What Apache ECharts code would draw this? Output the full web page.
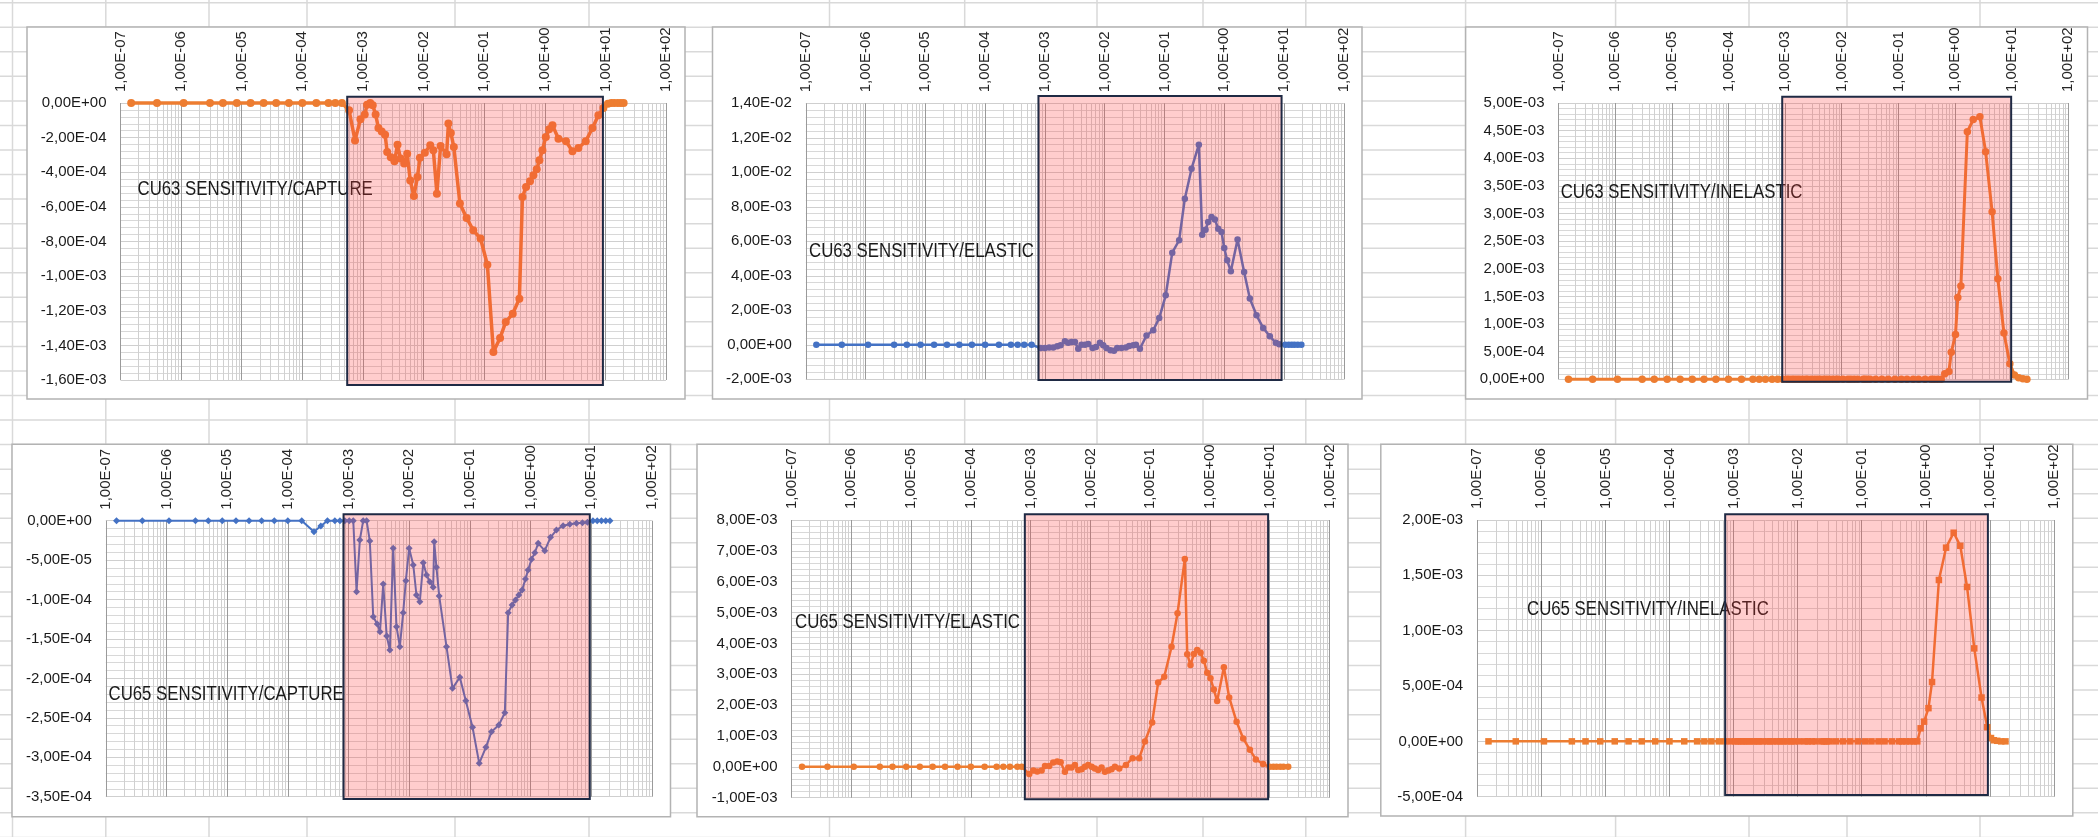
<!DOCTYPE html>
<html>
<head>
<meta charset="utf-8">
<title>CU63 / CU65 sensitivity profiles</title>
<script src="https://cdn.jsdelivr.net/npm/echarts@6/dist/echarts.min.js"></script>
<style>
  html, body { margin: 0; padding: 0; background: #ffffff; }
  #chart { width: 2098px; height: 837px; }
</style>
</head>
<body>
<div id="chart"></div>
<script>
// ---- Energy group grid (MeV) ----
const lowGroupE = [1.5e-7, 4.0e-7, 1.1e-6, 3.0e-6, 4.9e-6, 8.3e-6, 1.4e-5, 2.3e-5, 3.7e-5, 6.0e-5, 1.0e-4, 1.7e-4, 2.7e-4, 3.5e-4, 4.5e-4];
const midGroupE = [5.9e-4, 7.4e-4, 9.1e-4, 1.07e-3, 1.17e-3, 1.32e-3, 1.45e-3, 1.62e-3, 1.80e-3, 2.04e-3, 2.32e-3,
  2.51e-3, 2.88e-3, 3.31e-3, 3.72e-3, 4.17e-3, 4.79e-3, 5.37e-3, 6.03e-3, 6.92e-3, 7.94e-3, 8.71e-3,
  1.05e-2, 1.29e-2, 1.45e-2, 1.66e-2, 1.91e-2, 2.40e-2, 2.57e-2, 2.82e-2, 3.16e-2, 3.98e-2, 5.13e-2,
  6.61e-2, 8.71e-2, 0.113, 0.142, 0.183, 0.227, 0.296, 0.381, 0.428, 0.491, 0.571];

// ---- CU63 capture ----
const cu63CaptureE = [...lowGroupE, ...midGroupE, 0.649, 0.736, 0.815, 0.914, 1.04, 1.18, 1.34, 1.68, 2.24, 2.86, 3.59, 4.74, 6.11, 7.67, 9.27, 11, 12.5, 14, 16, 18, 20];
const cu63Capture = [0, 0, 0, 0, 0, 0, 0, 0, 0, 0, 0, 0, 0, 0, 0,
  -4.2e-5, -2.16e-4, -9.4e-5, -6.7e-5, -1.0e-5, 0, -1.3e-5, -6.7e-5, -1.44e-4, -1.64e-4, -1.83e-4,
  -2.83e-4, -3.14e-4, -3.37e-4, -2.41e-4, -3.21e-4, -3.50e-4, -2.93e-4, -4.47e-4, -5.37e-4, -4.27e-4, -3.16e-4,
  -2.87e-4, -2.44e-4, -2.73e-4, -5.24e-4, -2.48e-4, -2.96e-4, -1.19e-4, -1.73e-4, -2.54e-4, -5.81e-4, -6.64e-4,
  -7.35e-4, -7.83e-4, -9.34e-4, -1.438e-3, -1.357e-3, -1.265e-3, -1.217e-3, -1.130e-3, -5.43e-4, -4.85e-4, -4.52e-4,
  -4.18e-4, -3.83e-4, -3.31e-4, -2.73e-4, -1.96e-4, -1.52e-4, -1.29e-4, -2.06e-4, -2.21e-4, -2.79e-4, -2.60e-4,
  -2.21e-4, -1.44e-4, -7.1e-5, -2.9e-5, -5e-6, 0, 0, 0, 0, 0];

// ---- CU63 elastic ----
const cu63ElasticE = [...lowGroupE, 6.0e-4, 8.5e-4, 1.0e-3, 1.18e-3, 1.38e-3, 1.61e-3, 1.83e-3, 2.16e-3, 2.45e-3, 2.79e-3, 3.18e-3, 3.61e-3, 4.10e-3, 4.68e-3, 5.31e-3, 6.27e-3, 7.13e-3, 8.32e-3, 9.44e-3, 1.07e-2, 1.25e-2, 1.43e-2, 1.62e-2, 1.91e-2, 2.26e-2, 2.57e-2, 3.0e-2, 3.33e-2, 3.88e-2, 5.01e-2, 6.49e-2, 8.17e-2, 0.105, 0.135, 0.176, 0.219, 0.284, 0.376, 0.428, 0.486, 0.538, 0.612, 0.697, 0.792, 0.90, 1.0, 1.12, 1.29, 1.67, 2.15, 2.68, 3.47, 4.48, 5.79, 7.29, 8.30, 10.5, 12, 13.5, 15, 17, 19.5];
const cu63Elastic = [0, 0, 0, 0, 0, 0, 0, 0, 0, 0, 0, 0, 0, 0, 0,
  0, -1.9e-4, -1.9e-4, -1.5e-4, -1.5e-4, -9e-5, -3e-5, 2.0e-4, 1.2e-4, 1.6e-4, 1.6e-4, -2.3e-4, 0, 0, 4e-5, -1.9e-4, -1.3e-4, 1.2e-4, -3e-5, -1.9e-4, -3.2e-4, -3.4e-4, -1.9e-4, -1.9e-4, -1.5e-4, -7e-5, -3e-5, 0, -2.3e-4,
  5.4e-4, 8.4e-4, 1.55e-3, 2.87e-3, 5.34e-3, 6.06e-3, 8.47e-3, 1.021e-2, 1.160e-2, 6.38e-3, 6.67e-3, 7.12e-3, 7.41e-3, 7.27e-3, 6.73e-3, 6.54e-3, 5.61e-3, 4.90e-3, 4.26e-3, 6.11e-3, 4.22e-3, 2.68e-3, 1.71e-3, 9.8e-4, 4.9e-4, 1.2e-4, 3e-5,
  0, 0, 0, 0, 0, 0];

// ---- CU63 inelastic ----
const cu63InelasticE = [...lowGroupE, ...midGroupE, 0.66, 0.78, 0.86, 1.02, 1.12, 1.27, 1.65, 2.1, 2.75, 3.47, 4.52, 5.7, 7.3, 9.3, 11.2, 13.3, 15.8, 18.6];
const cu63Inelastic = [0, 0, 0, 0, 0, 0, 0, 0, 0, 0, 0, 0, 0, 0, 0,
  0, 0, 0, 0, 0, 0, 0, 0, 0, 0, 0,
  0, 0, 0, 0, 0, 0, 0, 0, 0, 0, 0,
  0, 0, 0, 0, 0, 0, 0, 0, 0, 0, 0,
  0, 0, 0, 0, 0, 0, 0, 0, 0, 0, 0,
  1.0e-4, 1.4e-4, 4.9e-4, 8.1e-4, 1.48e-3, 1.69e-3, 4.48e-3, 4.70e-3, 4.75e-3, 4.12e-3, 3.03e-3, 1.82e-3, 8.4e-4, 2.8e-4, 8e-5, 3e-5, 1e-5, 0];

// ---- CU65 capture ----
const cu65CaptureE = [...lowGroupE, 5.97e-4, 7.23e-4, 8.71e-4, 1.03e-3, 1.20e-3, 1.36e-3, 1.54e-3, 1.75e-3, 1.99e-3, 2.25e-3, 2.56e-3, 2.98e-3, 3.31e-3, 3.74e-3, 4.27e-3, 4.81e-3, 5.46e-3, 6.19e-3, 7.03e-3, 7.98e-3, 8.83e-3, 1.0e-2, 1.17e-2, 1.32e-2, 1.50e-2, 1.71e-2, 1.94e-2, 2.19e-2, 2.49e-2, 2.59e-2, 2.82e-2, 3.13e-2, 4.13e-2, 5.19e-2, 6.85e-2, 8.59e-2, 0.111, 0.143, 0.184, 0.228, 0.301, 0.378, 0.429, 0.499, 0.566, 0.643, 0.729, 0.826, 0.914, 1.04, 1.18, 1.34, 1.72, 2.14, 2.68, 3.45, 4.45, 5.73, 7.19, 8.69, 10.7, 12.6, 14.8, 17.4, 20.4];
const cu65Capture = [0, 0, 0, 0, 0, 0, 0, 0, 0, 0, 0, 0, -1.39e-5, -6.7e-6, 0,
  0, 0, 0, 0, 0, -9.0e-5, -2.45e-5, 0, 0, -2.58e-5, -1.217e-4, -1.31e-4, -1.407e-4, -8.03e-5, -1.462e-4, -1.64e-4, -3.5e-5, -1.344e-4, -1.597e-4, -1.166e-4, -7.6e-5, -3.5e-5, -5.62e-5, -9.42e-5, -1.027e-4, -5.32e-5, -6.89e-5, -7.73e-5, -8.45e-5, -2.66e-5, -5.91e-5, -9.55e-5,
  -1.597e-4, -2.126e-4, -1.986e-4, -2.282e-4, -2.62e-4, -3.077e-4, -2.874e-4, -2.675e-4, -2.591e-4, -2.435e-4, -1.166e-4, -1.069e-4, -1.006e-4, -9.42e-5, -8.79e-5, -7.39e-5, -6.25e-5, -4.9e-5, -4.06e-5, -2.87e-5, -3.8e-5, -2.11e-5, -1.18e-5, -6.3e-6, -4.6e-6, -3.3e-6, -2.5e-6, -2.1e-6,
  0, 0, 0, 0, 0];

// ---- CU65 elastic ----
const cu65ElasticE = [...lowGroupE, 6.0e-4, 7.1e-4, 9.5e-4, 1.11e-3, 1.29e-3, 1.53e-3, 1.74e-3, 2.05e-3, 2.39e-3, 2.79e-3, 3.18e-3, 3.75e-3, 4.27e-3, 4.84e-3, 5.51e-3, 6.27e-3, 7.13e-3, 8.09e-3, 9.20e-3, 1.05e-2, 1.19e-2, 1.35e-2, 1.54e-2, 1.75e-2, 1.99e-2, 2.26e-2, 2.57e-2, 3.04e-2, 3.93e-2, 5.08e-2, 6.56e-2, 8.17e-2, 0.108, 0.136, 0.172, 0.228, 0.287, 0.38, 0.417, 0.473, 0.538, 0.612, 0.697, 0.791, 0.90, 1.02, 1.16, 1.32, 1.71, 2.10, 2.79, 3.60, 4.66, 5.86, 7.76, 10, 11.5, 13, 15, 17, 20.4];
const cu65Elastic = [0, 0, 0, 0, 0, 0, 0, 0, 0, 0, 0, 0, 0, 0, 0,
  0, 0, -2.3e-4, -1.2e-4, -1.5e-4, -1.2e-4, 3e-5, 3e-5, 1.4e-4, 1.7e-4, 1.5e-4, -1.6e-4, -2e-5, -2e-5, 6e-5, -1.0e-4, -8e-5, 0, 6e-5, 0, -5e-5, -1.0e-4, -2e-5, -1.6e-4, -1.2e-4, -8e-5, 0, -5e-5, 6e-5,
  2.8e-4, 2.8e-4, 8.2e-4, 1.44e-3, 2.73e-3, 2.92e-3, 3.89e-3, 4.98e-3, 6.74e-3, 3.65e-3, 3.30e-3, 3.66e-3, 3.79e-3, 3.70e-3, 3.44e-3, 3.05e-3, 2.87e-3, 2.51e-3, 2.13e-3, 3.23e-3, 2.25e-3, 1.46e-3, 9.2e-4, 5.5e-4, 2.4e-4, 9e-5,
  0, 0, 0, 0, 0, 0];

// ---- CU65 inelastic ----
const cu65InelasticE = [...lowGroupE, ...midGroupE, 0.649, 0.736, 0.83, 0.94, 1.1, 1.25, 1.6, 2.07, 2.72, 3.45, 4.4, 5.7, 7.4, 9.1, 10.4, 11.5, 13, 15, 17.5];
const cu65Inelastic = [0, 0, 0, 0, 0, 0, 0, 0, 0, 0, 0, 0, 0, 0, 0,
  0, 0, 0, 0, 0, 0, 0, 0, 0, 0, 0,
  0, 0, 0, 0, 0, 0, 0, 0, 0, 0, 0,
  0, 0, 0, 0, 0, 0, 0, 0, 0, 0, 0,
  0, 0, 0, 0, 0, 0, 0, 0, 0, 0, 0,
  0, 0, 1.18e-4, 1.78e-4, 3.0e-4, 5.36e-4, 1.458e-3, 1.75e-3, 1.885e-3, 1.767e-3, 1.395e-3, 8.4e-4, 3.96e-4, 1.28e-4, 3e-5, 1e-5, 5e-6, 0, 0];

// ---- Axis ranges ----
const energyRange = [1e-7, 1e2];
const yRanges = [
  { min: -1.6e-3, max: 0, interval: 2e-4 },
  { min: -2e-3, max: 1.4e-2, interval: 2e-3 },
  { min: 0, max: 5e-3, interval: 5e-4 },
  { min: -3.5e-4, max: 0, interval: 5e-5 },
  { min: -1e-3, max: 8e-3, interval: 1e-3 },
  { min: -5e-4, max: 2e-3, interval: 5e-4 }
];
// Highlighted energy window of each panel (MeV)
const windows = [[5.5e-4, 9.1], [7.8e-4, 9.1], [8.9e-4, 9.8], [8.3e-4, 9.5], [8.0e-4, 9.4], [7.4e-4, 9.3]];
const titles = ['CU63 SENSITIVITY/CAPTURE', 'CU63 SENSITIVITY/ELASTIC', 'CU63 SENSITIVITY/INELASTIC',
                'CU65 SENSITIVITY/CAPTURE', 'CU65 SENSITIVITY/ELASTIC', 'CU65 SENSITIVITY/INELASTIC'];
const seriesE = [cu63CaptureE, cu63ElasticE, cu63InelasticE, cu65CaptureE, cu65ElasticE, cu65InelasticE];
const seriesV = [cu63Capture, cu63Elastic, cu63Inelastic, cu65Capture, cu65Elastic, cu65Inelastic];

// ---- Layout and styling of the six sheet charts ----
const ORANGE = '#ED7D31', BLUE = '#4472C4';
const layout = [
  { box: [27, 27, 685, 399],      grid: [120.5, 103, 545.5, 277],   title: [137.5, 189], color: ORANGE, symbol: 'circle',  size: 8,   width: 3.5, pad: [6.3, 5] },
  { box: [712.5, 27, 1362, 399],  grid: [805.8, 103.3, 538, 276],   title: [809, 251],   color: BLUE,   symbol: 'circle',  size: 6.5, width: 2.5, pad: [7.3, 0.7] },
  { box: [1465.6, 27, 2087.5, 399], grid: [1558.5, 103, 509.8, 276.3], title: [1560.7, 192.7], color: ORANGE, symbol: 'circle', size: 7.5, width: 3, pad: [6.3, 2.4] },
  { box: [12, 444.3, 670.5, 816.7], grid: [105.8, 520.7, 546, 276],   title: [108.5, 694], color: BLUE,   symbol: 'diamond', size: 7,   width: 2,   pad: [6.4, 2.3] },
  { box: [697, 444.3, 1348, 816.7], grid: [791.5, 520, 538, 277.7],   title: [795, 622],   color: ORANGE, symbol: 'circle',  size: 6.5, width: 2.5, pad: [5.7, 1.6] },
  { box: [1380.8, 444.3, 2072.8, 816], grid: [1477.2, 520, 576.8, 276.7], title: [1527, 609], color: ORANGE, symbol: 'rect', size: 6.5, width: 2.5, pad: [5.7, -1.7] }
];
const sheetCols = [12.5, 105.8, 209, 307, 455, 589, 829.5, 964.7, 1097, 1203, 1305.8, 1465.6, 1615.6, 1749, 1847, 1980];
const sheetRowTop = 2.7, sheetRowH = 24.55;

// "1,00E-07" style of the spreadsheet
function sci(v) {
  if (Math.abs(v) < 1e-15) v = 0;
  const parts = v.toExponential(2).split('e');
  const sign = parts[1].charAt(0) === '-' ? '-' : '+';
  let digits = parts[1].replace(/[+-]/, '');
  if (digits.length < 2) digits = '0' + digits;
  return parts[0].replace('.', ',') + 'E' + sign + digits;
}

const LABEL_FONT = '"Liberation Sans", Arial, sans-serif';
const TITLE_FONT = '"Liberation Sans", Arial, sans-serif';

const grids = [], xAxes = [], yAxes = [], series = [];
layout.forEach((p, i) => {
  grids.push({ left: p.grid[0], top: p.grid[1], width: p.grid[2], height: p.grid[3], containLabel: false });
  xAxes.push({
    type: 'log', logBase: 10, gridIndex: i, position: 'top',
    min: energyRange[0], max: energyRange[1], splitNumber: 9,
    axisLine: { show: false }, axisTick: { show: false },
    axisLabel: { rotate: 90, margin: 11, fontSize: 15, fontFamily: LABEL_FONT, color: '#262626', formatter: sci, showMinLabel: true, showMaxLabel: true },
    splitLine: { show: true, lineStyle: { color: '#9a9a9a', width: 1 } },
    minorTick: { show: false, splitNumber: 9 },
    minorSplitLine: { show: true, lineStyle: { color: '#d0d0d0', width: 1 } }
  });
  yAxes.push({
    type: 'value', gridIndex: i, position: 'left',
    min: yRanges[i].min, max: yRanges[i].max, interval: yRanges[i].interval,
    axisLine: { show: false }, axisTick: { show: false },
    axisLabel: { margin: 14, fontSize: 15, fontFamily: LABEL_FONT, color: '#1a1a1a', formatter: sci },
    splitLine: { show: true, lineStyle: { color: '#cfcfcf', width: 1 } },
    minorTick: { show: false, splitNumber: 5 },
    minorSplitLine: { show: true, lineStyle: { color: '#d8d8d8', width: 1 } }
  });
  series.push({
    type: 'line', xAxisIndex: i, yAxisIndex: i, name: titles[i],
    data: seriesE[i].map((e, k) => [e, seriesV[i][k]]),
    symbol: p.symbol, symbolSize: p.size, showSymbol: true, clip: false,
    lineStyle: { color: p.color, width: p.width },
    itemStyle: { color: p.color, borderWidth: 0 },
    z: 2
  });
});

const chart = echarts.init(document.getElementById('chart'), null, { renderer: 'canvas' });
chart.setOption({
  animation: false,
  backgroundColor: '#ffffff',
  grid: grids, xAxis: xAxes, yAxis: yAxes, series: series
});

// Sheet background, chart frames, titles and highlighted windows
const elements = [];
for (let k = 0; sheetRowTop + k * sheetRowH < 840; k++) {
  const y = sheetRowTop + k * sheetRowH;
  elements.push({ type: 'line', z: -10, silent: true, shape: { x1: 0, y1: y, x2: 2098, y2: y }, style: { stroke: '#d9d9d9', lineWidth: 1.5 } });
}
sheetCols.forEach(x => {
  elements.push({ type: 'line', z: -10, silent: true, shape: { x1: x, y1: 0, x2: x, y2: 837 }, style: { stroke: '#d9d9d9', lineWidth: 1.5 } });
});
layout.forEach((p, i) => {
  elements.push({ type: 'rect', z: -5, silent: true,
    shape: { x: p.box[0], y: p.box[1], width: p.box[2] - p.box[0], height: p.box[3] - p.box[1] },
    style: { fill: '#ffffff', stroke: '#b3b3b3', lineWidth: 1.5 } });
  // condensed title lettering
  elements.push({ type: 'text', z: 50, silent: true, x: p.title[0], y: p.title[1], scaleX: 0.84, scaleY: 1,
    style: { text: titles[i], fill: '#1a1a1a', fontSize: 20, fontFamily: TITLE_FONT, verticalAlign: 'middle', align: 'left' } });
  const x0 = chart.convertToPixel({ xAxisIndex: i }, windows[i][0]);
  const x1 = chart.convertToPixel({ xAxisIndex: i }, windows[i][1]);
  elements.push({ type: 'rect', z: 100, silent: true,
    shape: { x: x0, y: p.grid[1] - p.pad[0], width: x1 - x0, height: p.grid[3] + p.pad[0] + p.pad[1] },
    style: { fill: 'rgba(255,60,60,0.26)', stroke: '#1f2a44', lineWidth: 2 } });
});
chart.setOption({ graphic: { elements: elements } });
</script>
</body>
</html>
